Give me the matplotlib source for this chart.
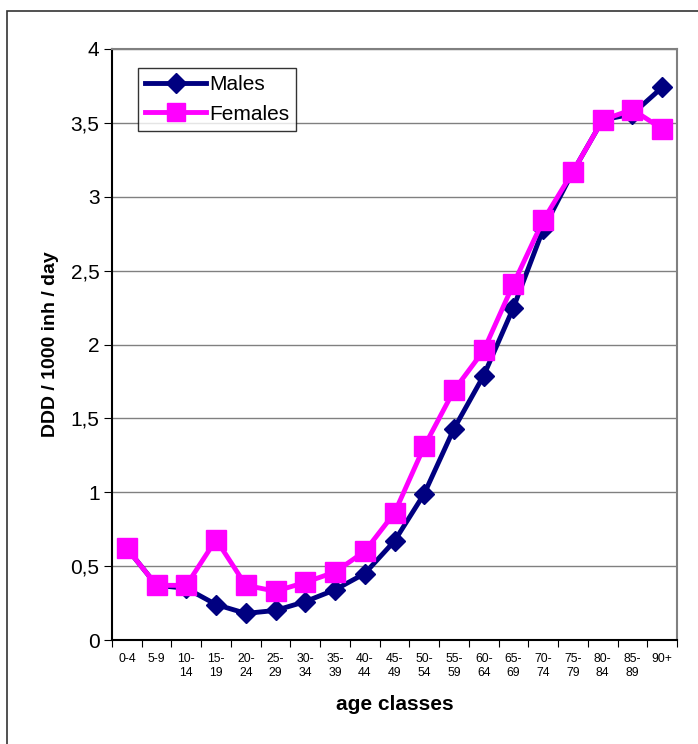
import numpy as np
import matplotlib.pyplot as plt
from matplotlib.patches import Rectangle
from matplotlib.ticker import FuncFormatter, FixedLocator

plt.rcParams['font.family'] = ['Liberation Sans', 'DejaVu Sans']

age_classes = ['0-4', '5-9', '10-\n14', '15-\n19', '20-\n24', '25-\n29', '30-\n34',
               '35-\n39', '40-\n44', '45-\n49', '50-\n54', '55-\n59', '60-\n64',
               '65-\n69', '70-\n74', '75-\n79', '80-\n84', '85-\n89', '90+']
males = [0.62, 0.37, 0.35, 0.24, 0.18, 0.20, 0.26, 0.34, 0.45, 0.67, 0.99,
         1.43, 1.79, 2.25, 2.78, 3.17, 3.52, 3.56, 3.74]
females = [0.62, 0.37, 0.37, 0.68, 0.37, 0.33, 0.39, 0.46, 0.60, 0.86, 1.31,
           1.69, 1.96, 2.41, 2.84, 3.17, 3.52, 3.59, 3.46]

fig = plt.figure(figsize=(6.98, 7.44), dpi=100)
# outer chart frame, open at right and bottom
fig.patches.append(Rectangle((7 / 698, -0.05), 1.0, 1 - 11 / 744 + 0.05,
                             transform=fig.transFigure, fill=False,
                             edgecolor='#333333', linewidth=1.2))

ax = fig.add_axes([112 / 698, 1 - 640 / 744, 565 / 698, 591 / 744])
x = np.arange(len(age_classes))

ax.plot(x, males, color='#000080', linewidth=3.5, marker='D', markersize=10,
        label='Males', zorder=3)
ax.plot(x, females, color='#FF00FF', linewidth=3.5, marker='s', markersize=14,
        label='Females', zorder=4)

ax.set_xlim(-0.5, len(age_classes) - 0.5)
ax.set_ylim(0, 4)
ax.set_yticks(np.arange(0, 4.01, 0.5))
ax.yaxis.set_major_formatter(FuncFormatter(lambda v, p: ('%g' % v).replace('.', ',')))
ax.yaxis.grid(True, color='#808080', linewidth=1)
ax.set_axisbelow(True)

# tick marks between categories, labels at category centres
ax.xaxis.set_major_locator(FixedLocator(np.arange(-0.5, len(age_classes), 1)))
ax.xaxis.set_minor_locator(FixedLocator(x))
ax.set_xticklabels([''] * (len(age_classes) + 1))
ax.set_xticklabels(age_classes, minor=True, fontsize=8.8, linespacing=1.25)
ax.tick_params(axis='x', which='major', length=5, direction='out', color='black')
ax.tick_params(axis='x', which='minor', length=0, pad=9)
ax.tick_params(axis='y', length=6, direction='out', labelsize=15, pad=3)
for lbl in ax.get_xticklabels(minor=True):
    lbl.set_verticalalignment('top')

ax.spines['left'].set_color('black')
ax.spines['bottom'].set_color('black')
ax.spines['top'].set_color('#808080')
ax.spines['right'].set_color('#808080')
for s in ax.spines.values():
    s.set_linewidth(1.5)

ax.set_xlabel('age classes', fontsize=15, fontweight='bold', labelpad=12)
ax.set_ylabel('DDD / 1000 inh / day', fontsize=14, fontweight='bold', labelpad=8)

leg = ax.legend(loc='upper left', bbox_to_anchor=(26 / 565, 1 - 19 / 591),
                fontsize=15, frameon=True, fancybox=False, handlelength=2.9,
                borderpad=0.35, labelspacing=0.5, handletextpad=0.15,
                borderaxespad=0)
leg.get_frame().set_edgecolor('black')
leg.get_frame().set_linewidth(1)
leg.legend_handles[0].set_markersize(10)
leg.legend_handles[1].set_markersize(13)

fig.savefig('out.png', dpi=100)
